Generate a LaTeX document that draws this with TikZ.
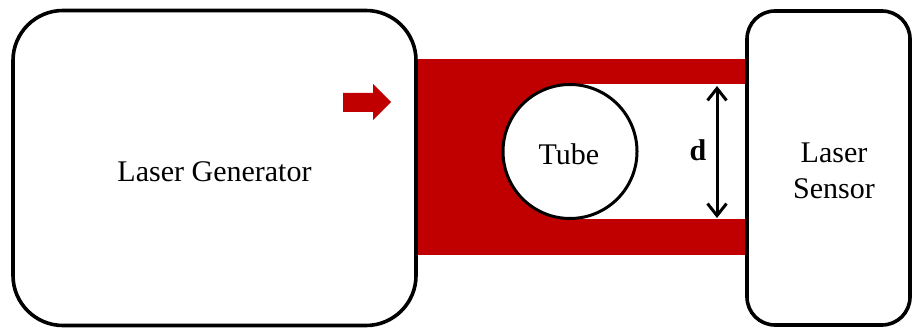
\documentclass[tikz,border=0pt]{standalone}
\usepackage{fontspec}
\setmainfont{Liberation Serif}
\newfontfamily\timesfam{Liberation Serif}
\usetikzlibrary{arrows.meta}
\definecolor{laserred}{RGB}{192,0,0}
\tikzset{
  lbl/.style={font=\timesfam\fontsize{30}{36}\selectfont},
  devbox/.style={draw=black, line width=3.6pt, fill=white, rectangle, inner sep=0pt, align=center, lbl},
  tubenode/.style={draw=black, line width=3pt, fill=white, circle, inner sep=0pt, lbl},
  dimarrow/.style={line width=3pt, {Straight Barb[length=12pt,width=19pt]}-{Straight Barb[length=12pt,width=19pt]}},
  beam/.style={fill=laserred, draw=none}
}
\begin{document}
\begin{tikzpicture}[x=1pt,y=-1pt]
\useasboundingbox (0,0) rectangle (912,328);
% laser beam
\fill[beam] (416,59) rectangle (746,255);
\fill[white] (570,84) rectangle (746,219);
% boxes
\node[devbox, minimum width=403pt, minimum height=315pt, rounded corners=50pt] (gen) at (214.5,168) {};
\node[lbl] (gentext) at (214.5,172) {Laser Generator};
\node[devbox, minimum width=163pt, minimum height=314pt, rounded corners=28pt] (sensor) at (828.5,168) {};
\node[lbl, align=center] (sensortext) at (834,171) {Laser\\Sensor};
\node[tubenode, minimum size=134pt] (tube) at (570,151.5) {};
\node[lbl] (tubetext) at (569,154) {Tube};
% red arrow
\fill[beam] (343,93) -- (373,93) -- (373,84) -- (391,102) -- (373,120) -- (373,112) -- (343,112) -- cycle;
% dimension
\coordinate (dtop) at (717,86);
\coordinate (dbot) at (717,218);
\draw[dimarrow] (dtop) -- (dbot);
\node[font=\timesfam\fontsize{30}{36}\selectfont\bfseries] (dlabel) at (698,150) {d};
\end{tikzpicture}
\end{document}
